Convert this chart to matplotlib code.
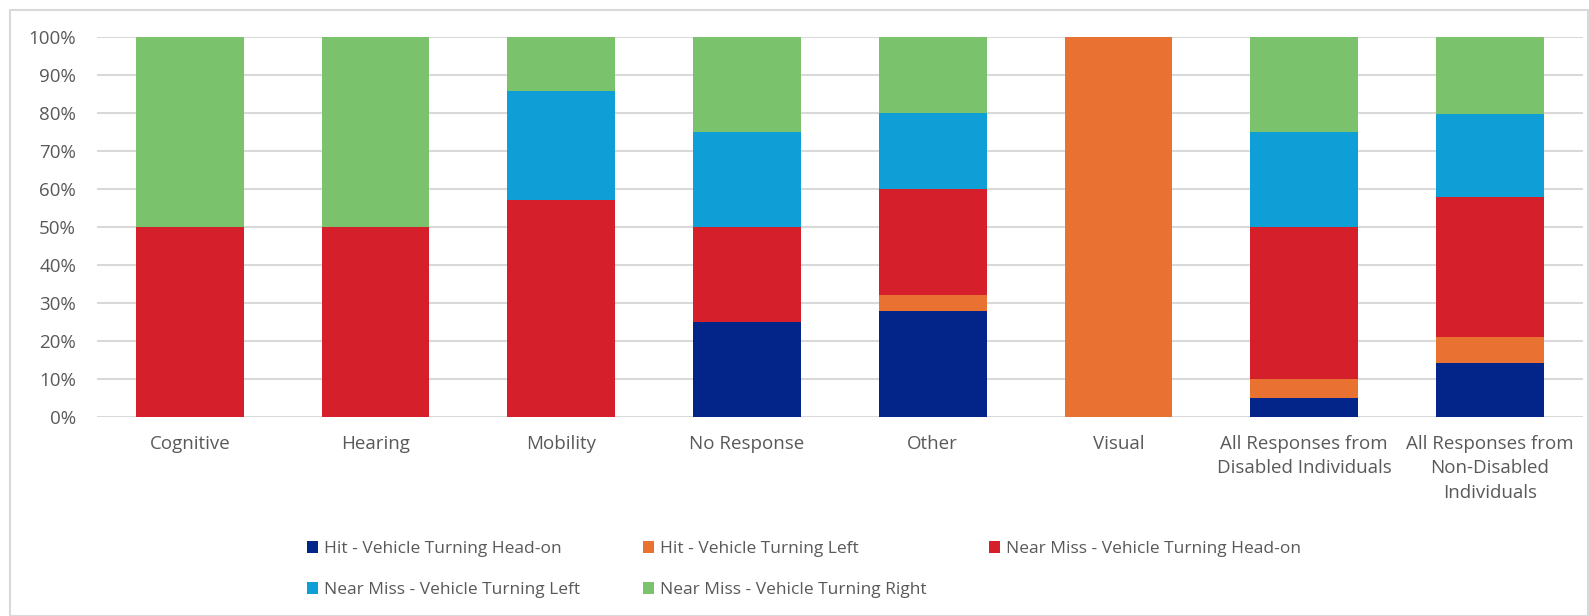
import matplotlib.pyplot as plt
from matplotlib.patches import Rectangle
import numpy as np

categories = ["Cognitive", "Hearing", "Mobility", "No Response", "Other", "Visual",
              "All Responses from\nDisabled Individuals",
              "All Responses from\nNon-Disabled\nIndividuals"]

hit_head_on = [0, 0, 0, 25, 28, 0, 5, 14.1]
hit_left = [0, 0, 0, 0, 4, 100, 5, 6.9]
near_head_on = [50, 50, 57.1, 25, 28, 0, 40, 37.0]
near_left = [0, 0, 28.6, 25, 20, 0, 25, 21.7]
near_right = [50, 50, 14.3, 25, 20, 0, 25, 20.3]

series = [
    ("Hit - Vehicle Turning Head-on", hit_head_on, "#03258A"),
    ("Hit - Vehicle Turning Left", hit_left, "#E97132"),
    ("Near Miss - Vehicle Turning Head-on", near_head_on, "#D51F2B"),
    ("Near Miss - Vehicle Turning Left", near_left, "#0F9FD6"),
    ("Near Miss - Vehicle Turning Right", near_right, "#7AC36C"),
]

text_color = "#595959"
plt.rcParams["font.family"] = ["Open Sans", "DejaVu Sans"]

fig = plt.figure(figsize=(15.89, 6.16), dpi=100)
ax = fig.add_axes([0.061, 0.323, 0.935, 0.617])

x = np.arange(len(categories))
bottom = np.zeros(len(categories))
handles = []
for label, vals, color in series:
    vals = np.array(vals) / 100
    b = ax.bar(x, vals, width=0.58, bottom=bottom, color=color, label=label, zorder=3)
    handles.append(b)
    bottom += vals

ax.set_xlim(-0.5, len(categories) - 0.5)
ax.set_ylim(0, 1)
ax.set_yticks(np.arange(0, 1.01, 0.1))
ax.set_yticklabels([f"{int(round(t * 100))}%" for t in np.arange(0, 1.01, 0.1)])
ax.yaxis.grid(True, color="#D9D9D9", linewidth=1.5, zorder=0)
ax.set_xticks(x)
ax.set_xticklabels(categories, fontsize=13.5, color=text_color, linespacing=1.45)
ax.tick_params(axis="y", labelsize=13.5, labelcolor=text_color, length=0, pad=15)
ax.tick_params(axis="x", length=0, pad=13)
for s in ax.spines.values():
    s.set_visible(False)

# legend fills column-wise, so reorder to get rows of three then two
order = [0, 3, 1, 4, 2]
leg = fig.legend([handles[i] for i in order], [series[i][0] for i in order],
                 ncol=3, loc="center", bbox_to_anchor=(0.506, 0.075),
                 frameon=False, fontsize=12.5, handlelength=0.65, handleheight=0.65,
                 handletextpad=0.35, columnspacing=3.6, labelspacing=1.45)
for t in leg.get_texts():
    t.set_color(text_color)

# outer chart border
fig.patches.append(Rectangle((10 / 1589, 0.0), 1 - 11 / 1589, 1 - 10 / 616,
                             transform=fig.transFigure, fill=False,
                             edgecolor="#D9D9D9", linewidth=1.5))

fig.savefig("out.png", dpi=100)
